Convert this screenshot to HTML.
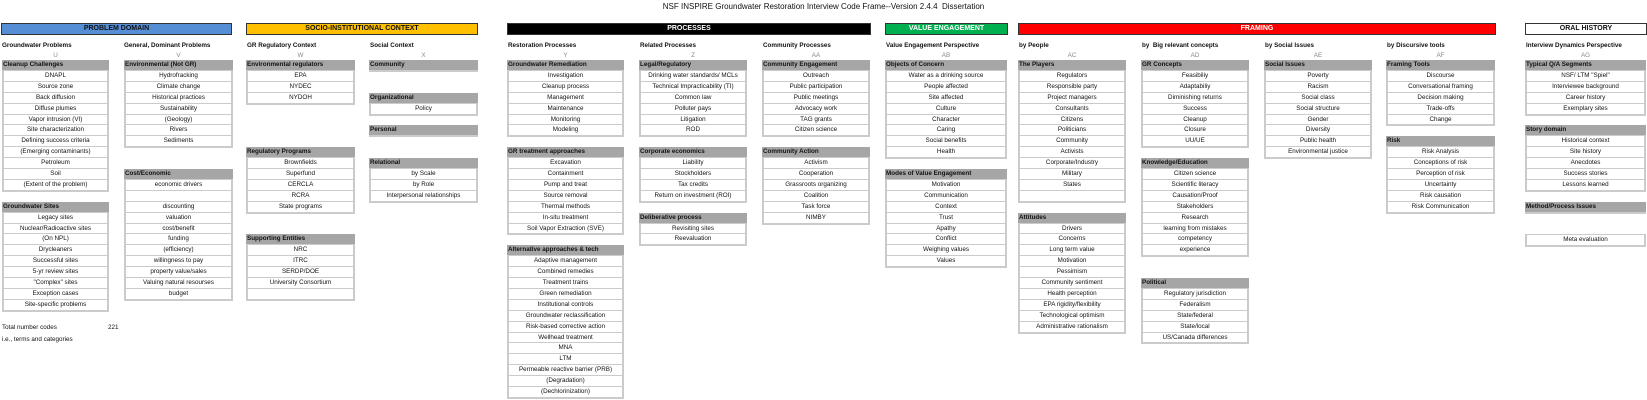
<!DOCTYPE html>
<html><head><meta charset="utf-8"><style>
body{margin:0;width:1647px;height:400px;background:#fff;position:relative;overflow:hidden;font-family:"Liberation Sans",sans-serif;color:#111}
.t{position:absolute;top:2px;left:0;width:1647px;text-align:center;font-size:8px}
.b{position:absolute;top:23px;height:10px;line-height:10px;border:1.5px solid #333;text-align:center;font-size:7px;font-weight:bold}
.c{position:absolute;top:42px;font-size:6.3px;font-weight:bold;white-space:nowrap}
.l{position:absolute;top:52px;font-size:6.3px;color:#888;text-align:center}
.g{position:absolute;background:#cbcbcb;padding-bottom:1px}
.h{height:10px;line-height:10px;background:#a6a6a6;margin-bottom:1px;font-size:6.3px;font-weight:bold;padding-left:1px;white-space:nowrap;overflow:hidden}
.i{height:9.9px;line-height:10px;background:#fff;margin:0 2px 1px 2px;text-align:center;font-size:6.3px;white-space:nowrap;overflow:hidden}
.n{position:absolute;font-size:6.3px;white-space:nowrap}
</style></head><body>
<div class="t">NSF INSPIRE Groundwater Restoration Interview Code Frame--Version 2.4.4&nbsp; Dissertation</div>

<div class="b" style="left:1px;width:229px;background:#558ed5">PROBLEM DOMAIN</div>
<div class="b" style="left:246px;width:230px;background:#ffc000">SOCIO-INSTITUTIONAL CONTEXT</div>
<div class="b" style="left:507px;width:362px;background:#000;color:#fff">PROCESSES</div>
<div class="b" style="left:885px;width:121px;background:#00b050;color:#fff">VALUE ENGAGEMENT</div>
<div class="b" style="left:1018px;width:476px;background:#ff0000;color:#fff">FRAMING</div>
<div class="b" style="left:1525px;width:120px;background:#fff">ORAL HISTORY</div>

<div class="c" style="left:2px">Groundwater Problems</div><div class="l" style="left:2px;width:107px">U</div>
<div class="c" style="left:124px">General, Dominant Problems</div><div class="l" style="left:124px;width:109px">V</div>
<div class="c" style="left:247px">GR Regulatory Context</div><div class="l" style="left:246px;width:109px">W</div>
<div class="c" style="left:370px">Social Context</div><div class="l" style="left:369px;width:109px">X</div>
<div class="c" style="left:508px">Restoration Processes</div><div class="l" style="left:507px;width:117px">Y</div>
<div class="c" style="left:640px">Related Processes</div><div class="l" style="left:639px;width:108px">Z</div>
<div class="c" style="left:763px">Community Processes</div><div class="l" style="left:762px;width:108px">AA</div>
<div class="c" style="left:886px">Value Engagement Perspective</div><div class="l" style="left:885px;width:122px">AB</div>
<div class="c" style="left:1019px">by People</div><div class="l" style="left:1018px;width:108px">AC</div>
<div class="c" style="left:1142px">by&nbsp; Big relevant concepts</div><div class="l" style="left:1141px;width:108px">AD</div>
<div class="c" style="left:1265px">by Social Issues</div><div class="l" style="left:1264px;width:108px">AE</div>
<div class="c" style="left:1387px">by Discursive tools</div><div class="l" style="left:1386px;width:109px">AF</div>
<div class="c" style="left:1526px">Interview Dynamics Perspective</div><div class="l" style="left:1525px;width:121px">AG</div>

<!-- U -->
<div class="g" style="left:2px;top:60px;width:107px"><div class="h">Cleanup Challenges</div><div class="i">DNAPL</div><div class="i">Source zone</div><div class="i">Back diffusion</div><div class="i">Diffuse plumes</div><div class="i">Vapor intrusion (VI)</div><div class="i">Site characterization</div><div class="i">Defining success criteria</div><div class="i">(Emerging contaminants)</div><div class="i">Petroleum</div><div class="i">Soil</div><div class="i">(Extent of the problem)</div></div>
<div class="g" style="left:2px;top:201.7px;width:107px"><div class="h">Groundwater Sites</div><div class="i">Legacy sites</div><div class="i">Nuclear/Radioactive sites</div><div class="i">(On NPL)</div><div class="i">Drycleaners</div><div class="i">Successful sites</div><div class="i">5-yr review sites</div><div class="i">"Complex" sites</div><div class="i">Exception cases</div><div class="i">Site-specific problems</div></div>
<div class="n" style="left:2px;top:324px">Total number codes</div><div class="n" style="left:108px;top:324px">221</div>
<div class="n" style="left:2px;top:336px">i.e., terms and categories</div>

<!-- V -->
<div class="g" style="left:124px;top:60px;width:109px"><div class="h">Environmental (Not GR)</div><div class="i">Hydrofracking</div><div class="i">Climate change</div><div class="i">Historical practices</div><div class="i">Sustainability</div><div class="i">(Geology)</div><div class="i">Rivers</div><div class="i">Sediments</div></div>
<div class="g" style="left:124px;top:169px;width:109px"><div class="h">Cost/Economic</div><div class="i">economic drivers</div><div class="i">&nbsp;</div><div class="i">discounting</div><div class="i">valuation</div><div class="i">cost/benefit</div><div class="i">funding</div><div class="i">(efficiency)</div><div class="i">willingness to pay</div><div class="i">property value/sales</div><div class="i">Valuing natural resourses</div><div class="i">budget</div></div>

<!-- W -->
<div class="g" style="left:246px;top:60px;width:109px"><div class="h">Environmental regulators</div><div class="i">EPA</div><div class="i">NYDEC</div><div class="i">NYDOH</div></div>
<div class="g" style="left:246px;top:147.2px;width:109px"><div class="h">Regulatory Programs</div><div class="i">Brownfields</div><div class="i">Superfund</div><div class="i">CERCLA</div><div class="i">RCRA</div><div class="i">State programs</div></div>
<div class="g" style="left:246px;top:234.4px;width:109px"><div class="h">Supporting Entities</div><div class="i">NRC</div><div class="i">ITRC</div><div class="i">SERDP/DOE</div><div class="i">University Consortium</div><div class="i">&nbsp;</div></div>

<!-- X -->
<div class="g" style="left:369px;top:60px;width:109px"><div class="h">Community</div></div>
<div class="g" style="left:369px;top:92.7px;width:109px"><div class="h">Organizational</div><div class="i">Policy</div></div>
<div class="g" style="left:369px;top:125.4px;width:109px"><div class="h">Personal</div></div>
<div class="g" style="left:369px;top:158.1px;width:109px"><div class="h">Relational</div><div class="i">by Scale</div><div class="i">by Role</div><div class="i">Interpersonal relationships</div></div>

<!-- Y -->
<div class="g" style="left:507px;top:60px;width:117px"><div class="h">Groundwater Remediation</div><div class="i">Investigation</div><div class="i">Cleanup process</div><div class="i">Management</div><div class="i">Maintenance</div><div class="i">Monitoring</div><div class="i">Modeling</div></div>
<div class="g" style="left:507px;top:147.2px;width:117px"><div class="h">GR treatment approaches</div><div class="i">Excavation</div><div class="i">Containment</div><div class="i">Pump and treat</div><div class="i">Source removal</div><div class="i">Thermal methods</div><div class="i">In-situ treatment</div><div class="i">Soil Vapor Extraction (SVE)</div></div>
<div class="g" style="left:507px;top:245.3px;width:117px"><div class="h">Alternative approaches &amp; tech</div><div class="i">Adaptive management</div><div class="i">Combined remedies</div><div class="i">Treatment trains</div><div class="i">Green remediation</div><div class="i">Institutional controls</div><div class="i">Groundwater reclassification</div><div class="i">Risk-based corrective action</div><div class="i">Wellhead treatment</div><div class="i">MNA</div><div class="i">LTM</div><div class="i">Permeable reactive barrier (PRB)</div><div class="i">(Degradation)</div><div class="i">(Dechlorinization)</div></div>

<!-- Z -->
<div class="g" style="left:639px;top:60px;width:108px"><div class="h">Legal/Regulatory</div><div class="i">Drinking water standards/ MCLs</div><div class="i">Technical Impracticability (TI)</div><div class="i">Common law</div><div class="i">Polluter pays</div><div class="i">Litigation</div><div class="i">ROD</div></div>
<div class="g" style="left:639px;top:147.2px;width:108px"><div class="h">Corporate economics</div><div class="i">Liability</div><div class="i">Stockholders</div><div class="i">Tax credits</div><div class="i">Return on investment (ROI)</div></div>
<div class="g" style="left:639px;top:212.6px;width:108px"><div class="h">Deliberative process</div><div class="i">Revisiting sites</div><div class="i">Reevaluation</div></div>

<!-- AA -->
<div class="g" style="left:762px;top:60px;width:108px"><div class="h">Community Engagement</div><div class="i">Outreach</div><div class="i">Public participation</div><div class="i">Public meetings</div><div class="i">Advocacy work</div><div class="i">TAG grants</div><div class="i">Citizen science</div></div>
<div class="g" style="left:762px;top:147.2px;width:108px"><div class="h">Community Action</div><div class="i">Activism</div><div class="i">Cooperation</div><div class="i">Grassroots organizing</div><div class="i">Coalition</div><div class="i">Task force</div><div class="i">NIMBY</div></div>

<!-- AB -->
<div class="g" style="left:885px;top:60px;width:122px"><div class="h">Objects of Concern</div><div class="i">Water as a drinking source</div><div class="i">People affected</div><div class="i">Site affected</div><div class="i">Culture</div><div class="i">Character</div><div class="i">Caring</div><div class="i">Social benefits</div><div class="i">Health</div></div>
<div class="g" style="left:885px;top:169px;width:122px"><div class="h">Modes of Value Engagement</div><div class="i">Motivation</div><div class="i">Communication</div><div class="i">Context</div><div class="i">Trust</div><div class="i">Apathy</div><div class="i">Conflict</div><div class="i">Weighing values</div><div class="i">Values</div></div>

<!-- AC -->
<div class="g" style="left:1018px;top:60px;width:108px"><div class="h">The Players</div><div class="i">Regulators</div><div class="i">Responsible party</div><div class="i">Project managers</div><div class="i">Consultants</div><div class="i">Citizens</div><div class="i">Politicians</div><div class="i">Community</div><div class="i">Activists</div><div class="i">Corporate/Industry</div><div class="i">Military</div><div class="i">States</div><div class="i">&nbsp;</div></div>
<div class="g" style="left:1018px;top:212.6px;width:108px"><div class="h">Attitudes</div><div class="i">Drivers</div><div class="i">Concerns</div><div class="i">Long term value</div><div class="i">Motivation</div><div class="i">Pessimism</div><div class="i">Community sentiment</div><div class="i">Health perception</div><div class="i">EPA rigidity/flexibility</div><div class="i">Technological optimism</div><div class="i">Administrative rationalism</div></div>

<!-- AD -->
<div class="g" style="left:1141px;top:60px;width:108px"><div class="h">GR Concepts</div><div class="i">Feasibiliy</div><div class="i">Adaptabiliy</div><div class="i">Diminishing returns</div><div class="i">Success</div><div class="i">Cleanup</div><div class="i">Closure</div><div class="i">UU/UE</div></div>
<div class="g" style="left:1141px;top:158.1px;width:108px"><div class="h">Knowledge/Education</div><div class="i">Citizen science</div><div class="i">Scientific literacy</div><div class="i">Causation/Proof</div><div class="i">Stakeholders</div><div class="i">Research</div><div class="i">learning from mistakes</div><div class="i">competency</div><div class="i">experience</div></div>
<div class="g" style="left:1141px;top:278px;width:108px"><div class="h">Political</div><div class="i">Regulatory jurisdiction</div><div class="i">Federalism</div><div class="i">State/federal</div><div class="i">State/local</div><div class="i">US/Canada differences</div></div>

<!-- AE -->
<div class="g" style="left:1264px;top:60px;width:108px"><div class="h">Social Issues</div><div class="i">Poverty</div><div class="i">Racism</div><div class="i">Social class</div><div class="i">Social structure</div><div class="i">Gender</div><div class="i">Diversity</div><div class="i">Public health</div><div class="i">Environmental justice</div></div>

<!-- AF -->
<div class="g" style="left:1386px;top:60px;width:109px"><div class="h">Framing Tools</div><div class="i">Discourse</div><div class="i">Conversational framing</div><div class="i">Decision making</div><div class="i">Trade-offs</div><div class="i">Change</div></div>
<div class="g" style="left:1386px;top:136.3px;width:109px"><div class="h">Risk</div><div class="i">Risk Analysis</div><div class="i">Conceptions of risk</div><div class="i">Perception of risk</div><div class="i">Uncertainty</div><div class="i">Risk causation</div><div class="i">Risk Communication</div></div>

<!-- AG -->
<div class="g" style="left:1525px;top:60px;width:121px"><div class="h">Typical Q/A Segments</div><div class="i">NSF/ LTM "Spiel"</div><div class="i">Interviewee background</div><div class="i">Career history</div><div class="i">Exemplary sites</div></div>
<div class="g" style="left:1525px;top:125.4px;width:121px"><div class="h">Story domain</div><div class="i">Historical context</div><div class="i">Site history</div><div class="i">Anecdotes</div><div class="i">Success stories</div><div class="i">Lessons learned</div></div>
<div class="g" style="left:1525px;top:201.7px;width:121px"><div class="h">Method/Process Issues</div></div>
<div class="g" style="left:1525px;top:234.4px;width:121px;padding-top:1px"><div class="i">Meta evaluation</div></div>
</body></html>
